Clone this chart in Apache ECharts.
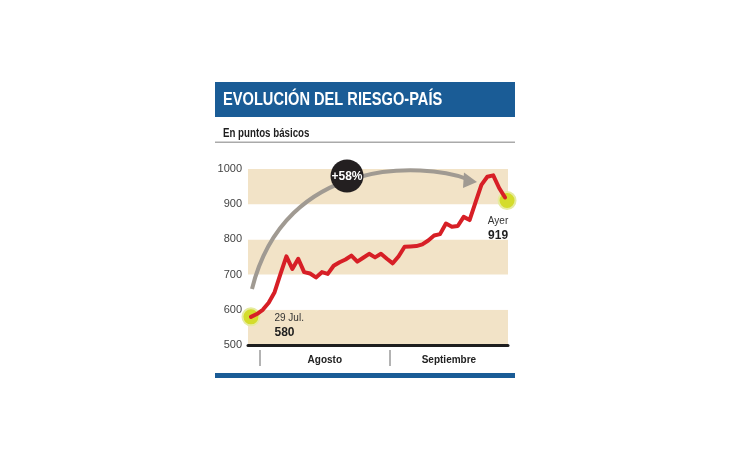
<!DOCTYPE html>
<html><head><meta charset="utf-8">
<script src="https://cdn.jsdelivr.net/npm/echarts@6/dist/echarts.min.js"></script>
<style>html,body{margin:0;padding:0;background:#fff}#c{width:730px;height:460px}</style>
</head><body><div id="c"></div>
<script>
// ---- data ----
const title = 'EVOLUCIÓN DEL RIESGO-PAÍS';
const subtitle = 'En puntos básicos';
const dates = ['29 Jul','1 Ago','2 Ago','3 Ago','4 Ago','5 Ago','8 Ago','9 Ago','10 Ago','11 Ago','12 Ago',
  '15 Ago','16 Ago','17 Ago','18 Ago','19 Ago','22 Ago','23 Ago','24 Ago','25 Ago','26 Ago','29 Ago','30 Ago','31 Ago',
  '1 Sep','2 Sep','5 Sep','6 Sep','7 Sep','8 Sep','9 Sep','12 Sep','13 Sep','14 Sep','15 Sep','16 Sep',
  '19 Sep','20 Sep','21 Sep','22 Sep','23 Sep','26 Sep','27 Sep','28 Sep'];
const values = [580, 588, 600, 620, 650, 702, 752, 716, 745, 707, 703, 692, 707, 702, 725, 735, 743, 754, 737, 748,
  759, 749, 759, 745, 732, 752, 779, 780, 781, 786, 797, 811, 815, 845, 836, 838, 864, 855, 905, 955, 978, 982, 946, 919];
const yMin = 500, yMax = 1000, yStep = 100;
const monthNames = ['Agosto', 'Septiembre'];
const monthBounds = [1.5, 23.5, 43.5];
const startLabel = '29 Jul.';
const endLabel = 'Ayer';

// ---- derived ----
const last = values.length - 1;
const pct = Math.round((values[last] / values[0] - 1) * 100);
const changeLabel = '+' + pct + '%';
const monthMids = monthNames.map((m, i) => (monthBounds[i] + monthBounds[i + 1]) / 2);

const SANS = '"Liberation Sans",Arial,sans-serif';
const BLUE = '#1a5c96';

const chart = echarts.init(document.getElementById('c'), null, {renderer: 'canvas'});
chart.setOption({
  animation: false,
  backgroundColor: '#ffffff',
  grid: {left: 248, right: 222, top: 169, bottom: 115},
  xAxis: [{
    type: 'category', data: dates, boundaryGap: true,
    axisLine: {show: true, lineStyle: {color: '#1e1e1e', width: 3}},
    axisTick: {show: false}, axisLabel: {show: false}, splitLine: {show: false}
  }, {
    type: 'value', position: 'bottom', offset: 5,
    min: -0.5, max: dates.length - 0.5,
    axisLine: {show: false}, splitLine: {show: false},
    axisTick: {show: true, customValues: monthBounds.slice(0, monthNames.length), length: 16,
      lineStyle: {color: '#9a9a9a', width: 1.5}},
    axisLabel: {show: true, customValues: monthMids, margin: 5,
      formatter: v => monthNames[monthMids.indexOf(v)] || '',
      fontFamily: SANS, fontWeight: 'bold', fontSize: 10, color: '#222'}
  }],
  yAxis: {
    type: 'value', min: yMin, max: yMax, interval: yStep,
    axisLine: {show: false}, axisTick: {show: false}, splitLine: {show: false},
    splitArea: {show: true, areaStyle: {color: ['#f2e3c7', '#ffffff']}},
    axisLabel: {margin: 6, fontFamily: SANS, fontSize: 11, color: '#444', formatter: v => String(v)}
  },
  series: [{
    type: 'scatter', z: 2, xAxisIndex: 0,
    symbolSize: 17,
    itemStyle: {color: '#d4dc2c', borderColor: '#e6eba0', borderWidth: 2, opacity: 1},
    data: [
      {value: [0, values[0]],
        label: {show: true, position: 'right', distance: 14, offset: [0, 9],
          formatter: '{a|' + startLabel + '}\n{b|' + values[0] + '}',
          rich: {a: {fontFamily: SANS, fontSize: 10, color: '#333', lineHeight: 13, align: 'left'},
                 b: {fontFamily: SANS, fontSize: 12, fontWeight: 'bold', color: '#1e1e1e', lineHeight: 15, align: 'left'}}}},
      {value: [last, values[last]], symbolOffset: [2, 3],
        label: {show: true, position: 'bottom', distance: 5, offset: [-9, 0],
          formatter: '{a|' + endLabel + '}\n{b|' + values[last] + '}',
          rich: {a: {fontFamily: SANS, fontSize: 10, color: '#333', lineHeight: 13, align: 'center'},
                 b: {fontFamily: SANS, fontSize: 12, fontWeight: 'bold', color: '#1e1e1e', lineHeight: 15, align: 'center'}}}}
    ]
  }, {
    type: 'line', z: 3, xAxisIndex: 0, data: values, symbol: 'none', smooth: false,
    lineStyle: {color: '#d71f26', width: 4, cap: 'round', join: 'round'}
  }],
  graphic: [
    {type: 'rect', shape: {x: 215, y: 82, width: 300, height: 35}, style: {fill: BLUE}},
    {type: 'text', x: 223, y: 100, scaleX: 0.77,
      style: {text: title, fill: '#ffffff', font: 'bold 19px ' + SANS, align: 'left', verticalAlign: 'middle'}},
    {type: 'text', x: 223, y: 133.5, scaleX: 0.81,
      style: {text: subtitle, fill: '#1e1e1e', font: 'bold 12px ' + SANS, align: 'left', verticalAlign: 'middle'}},
    {type: 'rect', shape: {x: 215, y: 141.5, width: 300, height: 1.5}, style: {fill: '#aaaaaa'}},
    {type: 'rect', shape: {x: 215, y: 373, width: 300, height: 5}, style: {fill: BLUE}},
    {type: 'bezierCurve', z: 50,
      shape: {x1: 252, y1: 289, cpx1: 285, cpy1: 155, cpx2: 425, cpy2: 163, x2: 467, y2: 179},
      style: {stroke: '#a09a92', lineWidth: 4, fill: null}},
    {type: 'polygon', z: 50, shape: {points: [[477, 182], [464, 172.5], [463, 188]]}, style: {fill: '#a09a92'}},
    {type: 'circle', z: 60, shape: {cx: 347, cy: 176, r: 16.5}, style: {fill: '#231f20'}},
    {type: 'text', z: 61, x: 347, y: 177,
      style: {text: changeLabel, fill: '#ffffff', font: 'bold 12px ' + SANS, align: 'center', verticalAlign: 'middle'}}
  ]
});
</script></body></html>
